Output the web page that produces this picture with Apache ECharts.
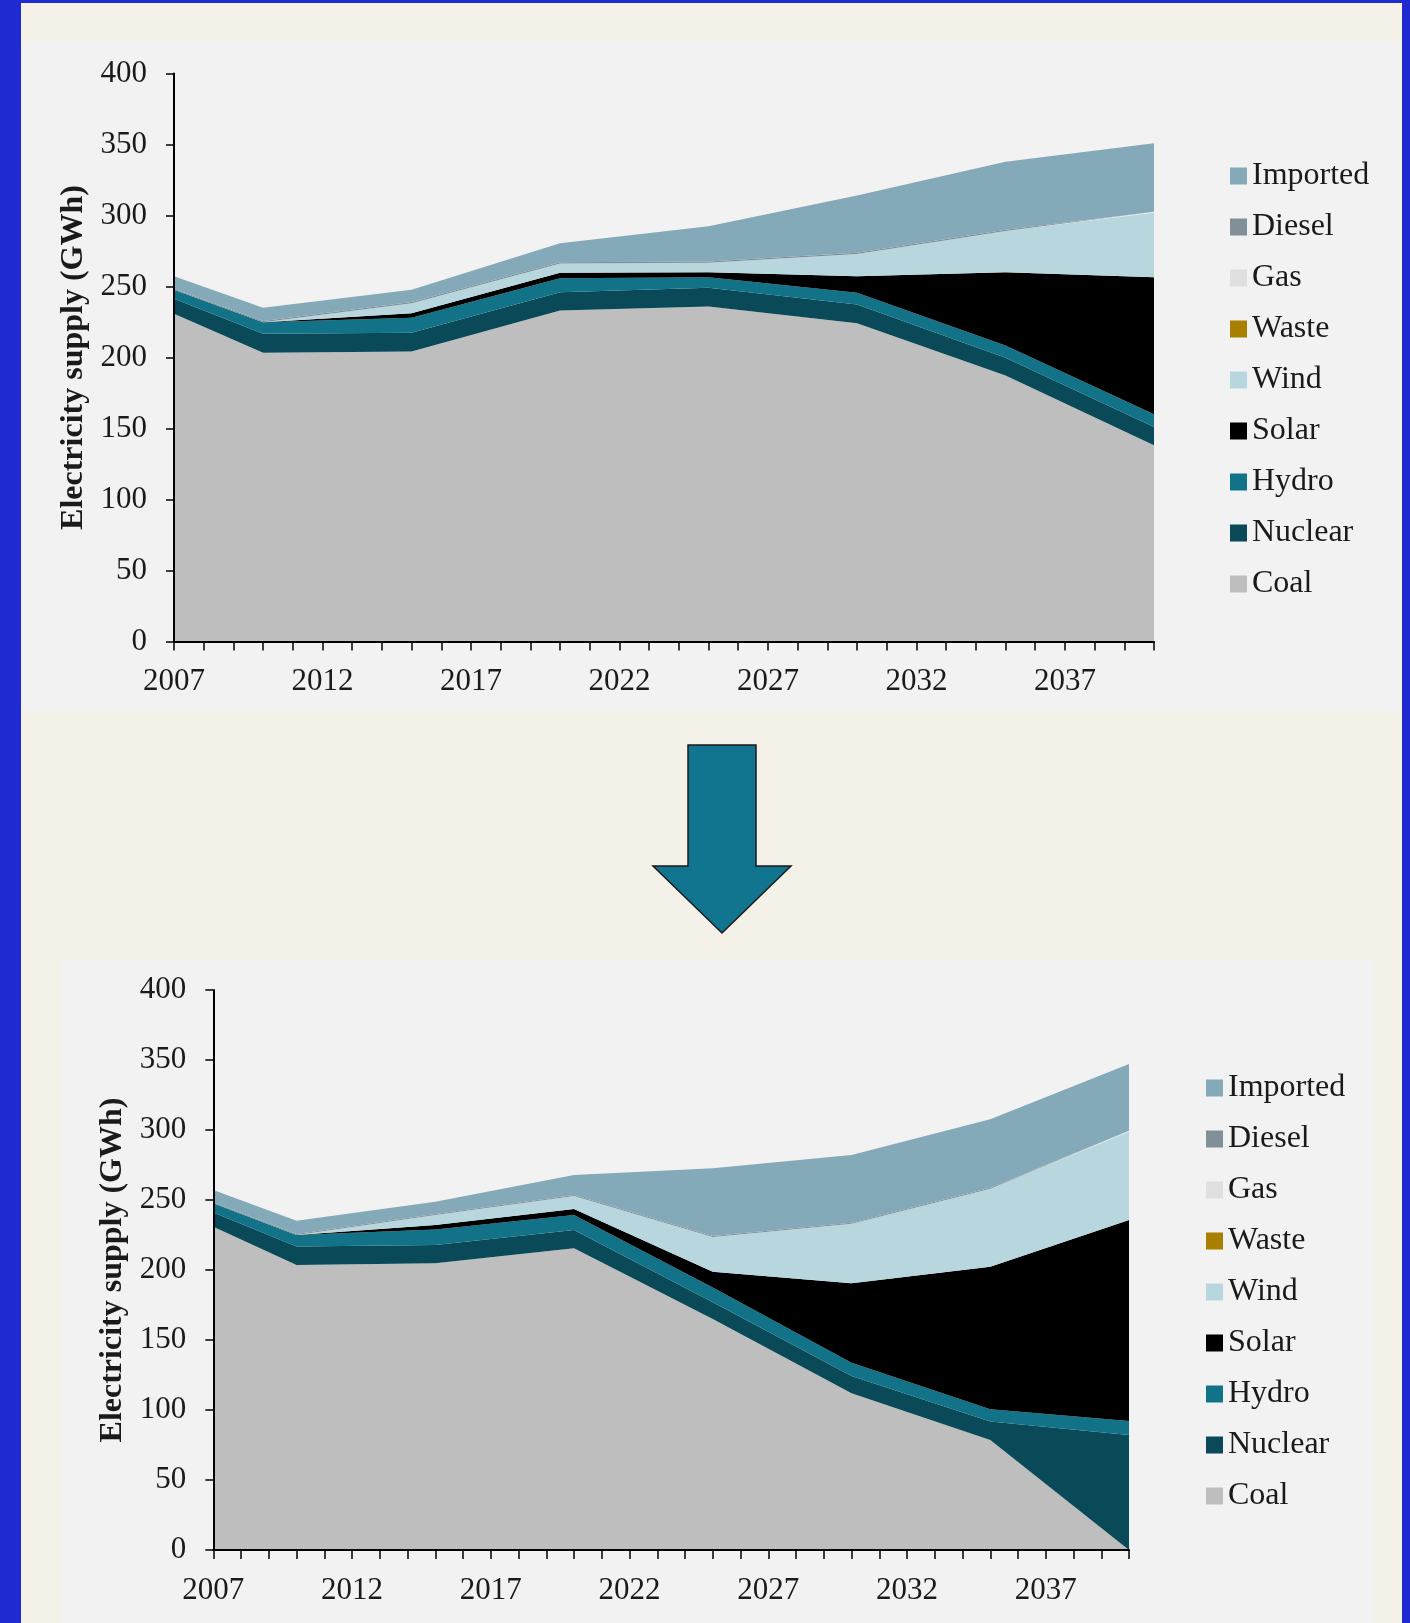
<!DOCTYPE html>
<html>
<head>
<meta charset="utf-8">
<script src="https://cdn.jsdelivr.net/npm/echarts@6/dist/echarts.min.js"></script>
<style>
html,body{margin:0;padding:0;}
body{width:1410px;height:1623px;position:relative;overflow:hidden;background:#f4f1e9;}
.b{position:absolute;}
#chart{position:absolute;left:0;top:0;width:1410px;height:1623px;}
</style>
</head>
<body>
<div class="b" style="left:0;top:0;width:21px;height:1623px;background:#1f2bd1"></div>
<div class="b" style="left:0;top:0;width:1410px;height:3px;background:#1f2bd1"></div>
<div class="b" style="left:1402px;top:0;width:8px;height:1623px;background:#1f2bd1"></div>
<div class="b" style="left:21px;top:42px;width:1379px;height:670px;background:#f2f2f2"></div>
<div class="b" style="left:62px;top:959px;width:1311px;height:664px;background:#f2f2f2"></div>
<div id="chart"></div>
<script>
// ---- data ----
const years = [2007, 2010, 2015, 2020, 2025, 2030, 2035, 2040];
const seriesNames = ['Coal', 'Nuclear', 'Hydro', 'Solar', 'Wind', 'Waste', 'Gas', 'Diesel', 'Imported'];
const legendOrder = ['Imported', 'Diesel', 'Gas', 'Waste', 'Wind', 'Solar', 'Hydro', 'Nuclear', 'Coal'];
const yTicks = [0, 50, 100, 150, 200, 250, 300, 350, 400];

// upper chart
const coalA     = [230.8, 203.4, 204.3, 233.1, 235.9, 224.2, 187.4, 138.2];
const nuclearA  = [10.6, 13.3, 13.1, 12.9, 13.2, 13.1, 12.5, 12.8];
const hydroA    = [6.3, 8.2, 10.6, 9.8, 7.4, 8.3, 8.6, 9.0];
const solarA    = [0, 0, 3.2, 3.8, 3.6, 11.7, 51.6, 96.5];
const windA     = [0, 0, 7.0, 6.6, 6.7, 15.6, 29.0, 45.4];
const wasteA    = [0, 0, 0, 0, 0, 0, 0, 0];
const gasA      = [0, 0, 0, 0, 0, 0, 0, 0];
const dieselA   = [0.8, 0.8, 0.8, 0.8, 0.8, 0.8, 0.8, 0.8];
const importedA = [8.7, 9.3, 8.7, 13.4, 24.8, 40.3, 48.0, 48.1];

// lower chart
const coalB     = [230.9, 203.6, 204.8, 215.5, 165.0, 111.9, 78.6, 0];
const nuclearB  = [10.1, 13.1, 13.1, 13.1, 12.0, 12.4, 13.1, 82.1];
const hydroB    = [6.6, 8.3, 11.1, 10.7, 10.5, 9.5, 8.8, 10.0];
const solarB    = [0, 0, 3.1, 4.3, 11.3, 56.7, 101.9, 143.6];
const windB     = [0, 0, 7.1, 9.2, 24.7, 42.5, 55.6, 63.0];
const wasteB    = [0, 0, 0, 0, 0, 0, 0, 0];
const gasB      = [0, 0, 0, 0, 0, 0, 0, 0];
const dieselB   = [0.8, 0.8, 0.8, 0.8, 0.8, 0.8, 0.8, 0.8];
const importedB = [8.7, 9.4, 8.8, 14.3, 48.3, 48.3, 48.8, 47.6];

const colors = {
  Coal: '#bebebe', Nuclear: '#0a4a58', Hydro: '#117288', Solar: '#000000',
  Wind: '#b7d6de', Waste: '#a87f00', Gas: '#e0e0e0', Diesel: '#818f97', Imported: '#84a9b8'
};

const setA = {Coal: coalA, Nuclear: nuclearA, Hydro: hydroA, Solar: solarA, Wind: windA, Waste: wasteA, Gas: gasA, Diesel: dieselA, Imported: importedA};
const setB = {Coal: coalB, Nuclear: nuclearB, Hydro: hydroB, Solar: solarB, Wind: windB, Waste: wasteB, Gas: gasB, Diesel: dieselB, Imported: importedB};

const FONT = 'Liberation Serif';
const TXT = '#1a1a1a';

// value first, year second, so the library stacks the value dimension
function makeSeries(set, idx, stack) {
  return seriesNames.map(n => ({
    name: n,
    type: 'line',
    stack: stack,
    xAxisIndex: idx,
    yAxisIndex: idx,
    encode: {x: 1, y: 0},
    symbol: 'none',
    showSymbol: false,
    lineStyle: {width: 0, opacity: 0},
    areaStyle: {color: colors[n], opacity: 1},
    itemStyle: {color: colors[n]},
    emphasis: {disabled: true},
    data: years.map((y, i) => [set[n][i], y])
  }));
}

function xAxis(idx) {
  return {
    type: 'value', gridIndex: idx, min: 2007, max: 2040, interval: 1, z: 10,
    axisLine: {show: true, onZero: false, lineStyle: {color: '#000', width: 2}},
    axisTick: {show: true, inside: false, length: 9, lineStyle: {color: '#000', width: 1.5}},
    splitLine: {show: false},
    axisLabel: {
      margin: 25, fontFamily: FONT, fontSize: 31, color: TXT,
      formatter: v => ((v - 2007) % 5 === 0 ? String(v) : '')
    }
  };
}
function yAxis(idx) {
  return {
    type: 'value', gridIndex: idx, min: yTicks[0], max: yTicks[yTicks.length - 1], interval: 50, z: 10,
    axisLine: {show: true, onZero: false, lineStyle: {color: '#000', width: 2}},
    axisTick: {show: true, inside: false, length: 8, lineStyle: {color: '#000', width: 1.5}},
    splitLine: {show: false},
    axisLabel: {margin: 27, fontFamily: FONT, fontSize: 31, color: TXT},
    name: 'Electricity supply (GWh)',
    nameLocation: 'middle',
    nameRotate: 90,
    nameGap: 82,
    nameTextStyle: {fontFamily: FONT, fontSize: 32, fontWeight: 'bold', color: TXT}
  };
}
function legend(left, top) {
  return {
    orient: 'vertical', left: left, top: top,
    icon: 'rect', itemWidth: 17, itemHeight: 17, itemGap: 17,
    selectedMode: false,
    data: legendOrder,
    textStyle: {fontFamily: FONT, fontSize: 32, color: TXT, lineHeight: 34}
  };
}

const chart = echarts.init(document.getElementById('chart'), null, {renderer: 'canvas'});
chart.setOption({
  backgroundColor: 'transparent',
  animation: false,
  grid: [
    {left: 174, top: 73.5, width: 980, height: 568},
    {left: 213.3, top: 990, width: 915.7, height: 560}
  ],
  xAxis: [xAxis(0), xAxis(1)],
  yAxis: [yAxis(0), yAxis(1)],
  legend: [legend(1225, 154), legend(1201, 1066)],
  graphic: [{
    type: 'polygon',
    shape: {points: [[688, 745], [756, 745], [756, 866], [791, 866], [722, 933], [653, 866], [688, 866]]},
    style: {fill: '#127590', stroke: '#1a1a1a', lineWidth: 1.5}
  }],
  series: makeSeries(setA, 0, 'top').concat(makeSeries(setB, 1, 'bottom'))
});
</script>
</body>
</html>
